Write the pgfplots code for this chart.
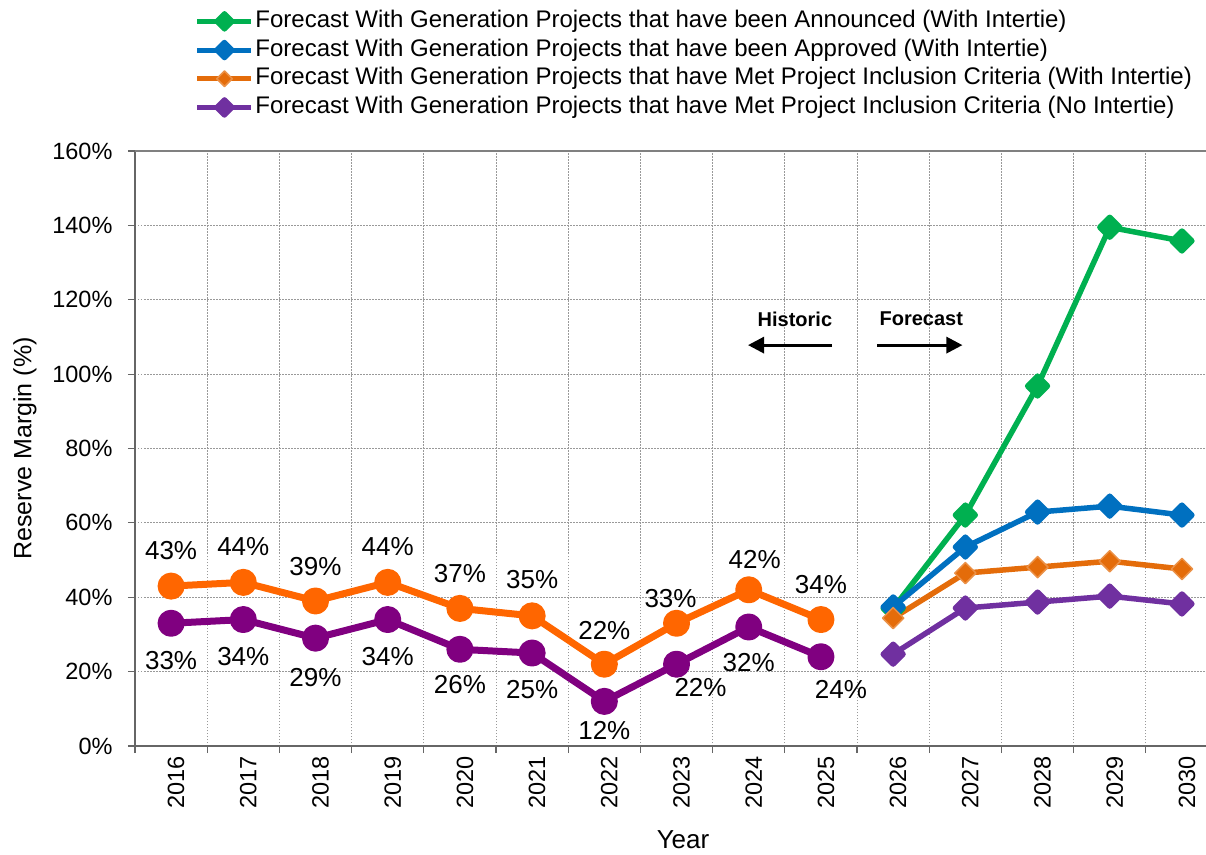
\documentclass[border=0pt]{standalone}
\usepackage{fontspec}
\setmainfont{Liberation Sans}
\usepackage{pgfplots}
\usepackage{pgfplotstable}
\pgfplotsset{compat=1.18}
\usetikzlibrary{arrows.meta}
\definecolor{cG}{HTML}{00B050}
\definecolor{cB}{HTML}{0070C0}
\definecolor{cO}{HTML}{E46C0A}
\definecolor{cP}{HTML}{7030A0}
\definecolor{hO}{HTML}{FF6600}
\definecolor{hP}{HTML}{800080}
\pgfplotstableread{
x o p odx ody pdx pdy
0 43 33 0 36 0 -37
1 44 34 0 36 0 -37
2 39 29 0 34 0 -39
3 44 34 0 36 0 -37
4 37 26 0 35 0 -35
5 35 25 0 36 0 -37
6 22 12 0 34 0 -29
7 33 22 -6 25 24 -23
8 42 32 6 30 0 -36
9 34 24 0 35 20 -33
}\hist
\pgfplotstableread{
x g b o p
10 37.0 37.4 34.4 24.7
11 62.1 53.5 46.5 37.1
12 96.8 62.9 48.1 38.7
13 139.5 64.5 49.7 40.3
14 135.8 62.1 47.6 38.2
}\fc
\begin{document}
\begin{tikzpicture}[x=1pt,y=1pt]
\useasboundingbox (0,0) rectangle (1206,854);
\begin{axis}[
  at={(135pt,108pt)}, anchor=south west,
  scale only axis, width=1071pt, height=595pt,
  xmin=-0.5, xmax=14.333, ymin=0, ymax=160,
  clip=false,
  axis x line*=bottom, axis y line*=left,
  axis line style={-, black!60, line width=2pt},
  xtick={0,...,14},
  xticklabels={2016,2017,2018,2019,2020,2021,2022,2023,2024,2025,2026,2027,2028,2029,2030},
  major x tick style={draw=none},
  minor xtick={-0.5,0.5,...,13.5},
  ytick={0,20,...,160},
  yticklabels={0\%,20\%,40\%,60\%,80\%,100\%,120\%,140\%,160\%},
  ymajorgrids, xminorgrids,
  major grid style={black!40, dash pattern=on 1.5pt off 1.5pt, line width=0.9pt},
  minor grid style={black!40, dash pattern=on 1.5pt off 1.5pt, line width=0.9pt},
  tick align=outside, major tick length=7pt, minor tick length=7pt,
  tick style={black!60, line width=1.2pt},
  tick label style={font=\fontsize{23.5}{23.5}\selectfont},
  yticklabel style={xshift=-12pt},
  xticklabel style={rotate=90, anchor=east, yshift=-5pt},
  ylabel={Reserve Margin (\%)},
  every axis y label/.style={at={(axis description cs:-0.1027,0.5)}, rotate=90, anchor=center, font=\fontsize{25}{25}\selectfont},
  xlabel={Year},
  every axis x label/.style={at={(axis description cs:0.5117,-0.1725)}, anchor=base, inner sep=0pt, font=\fontsize{26}{26}\selectfont},
  legend style={at={(0.056,1.242)}, anchor=north west, draw=none, fill=none,
    inner sep=0pt, outer sep=0pt, row sep=0pt,
    font=\fontsize{24}{24}\selectfont,
    nodes={inner sep=1.5pt, text height=19pt, text depth=6.7pt}},
  legend cell align=left,
  legend image code/.code={\draw[#1, mark repeat=2, mark phase=2, mark size=5.5pt, line width=5pt] plot coordinates {(0pt,0pt) (27pt,0pt) (54pt,0pt)};},
]
% historic
\addplot[hO, line width=7pt, line join=round, mark=*, mark size=10pt, forget plot,
  point meta=y,
  visualization depends on={\thisrow{odx}\as\dx},
  visualization depends on={\thisrow{ody}\as\dy},
  nodes near coords={\pgfmathprintnumber[fixed,precision=0,assume math mode=true]{\pgfplotspointmeta}\%},
  nodes near coords style={anchor=center, xshift=\dx pt, yshift=\dy pt, text=black, font=\fontsize{26}{26}\selectfont}
  ] table[x=x,y=o]{\hist};
\addplot[hP, line width=7pt, line join=round, mark=*, mark size=10pt, forget plot,
  point meta=y,
  visualization depends on={\thisrow{pdx}\as\dx},
  visualization depends on={\thisrow{pdy}\as\dy},
  nodes near coords={\pgfmathprintnumber[fixed,precision=0,assume math mode=true]{\pgfplotspointmeta}\%},
  nodes near coords style={anchor=center, xshift=\dx pt, yshift=\dy pt, text=black, font=\fontsize{26}{26}\selectfont}
  ] table[x=x,y=p]{\hist};
% forecast
\addplot[cG, line width=5.5pt, line join=round, mark=square*, mark size=7pt, mark options={rotate=45}] table[x=x,y=g]{\fc};
\addlegendentry{Forecast With Generation Projects that have been Announced (With Intertie)}
\addplot[cB, line width=5.5pt, line join=round, mark=square*, mark size=7pt, mark options={rotate=45}] table[x=x,y=b]{\fc};
\addlegendentry{Forecast With Generation Projects that have been Approved (With Intertie)}
\addplot[cO, line width=5.5pt, line join=round, mark=square*, mark size=7.5pt, mark options={rotate=45, fill=cO, draw=cO!75!white, line width=1.5pt}] table[x=x,y=o]{\fc};
\addlegendentry{Forecast With Generation Projects that have Met Project Inclusion Criteria (With Intertie)}
\addplot[cP, line width=5.5pt, line join=round, mark=square*, mark size=7pt, mark options={rotate=45}] table[x=x,y=p]{\fc};
\addlegendentry{Forecast With Generation Projects that have Met Project Inclusion Criteria (No Intertie)}
% annotations
\draw[black!50, line width=2pt] (rel axis cs:0,1) -- (rel axis cs:1,1);
\node[font=\bfseries\fontsize{20}{20}\selectfont] at (axis cs:8.64,114.8) {Historic};
\node[font=\bfseries\fontsize{20}{20}\selectfont] at (axis cs:10.39,114.8) {Forecast};
\draw[-{Triangle[length=16pt,width=16pt]}, line width=3pt] (axis cs:9.155,107.8) -- (axis cs:7.99,107.8);
\draw[-{Triangle[length=16pt,width=16pt]}, line width=3pt] (axis cs:9.78,107.8) -- (axis cs:10.96,107.8);
\end{axis}
\end{tikzpicture}
\end{document}
